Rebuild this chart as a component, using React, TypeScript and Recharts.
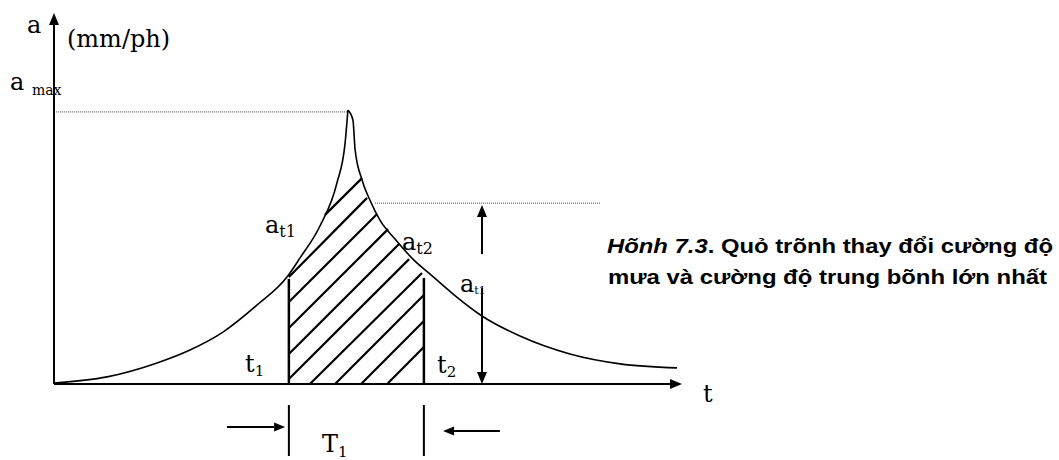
import React from 'react';
import { ComposedChart, Line, XAxis, YAxis, ReferenceLine } from 'recharts';

// rising limb of the rainfall intensity curve (t, a)
const leftT = [0, 1.69, 3.28, 4.33, 5.38, 6.46, 7.42, 7.83, 8.47, 9.01, 9.27, 9.36];
const leftA = [0.03, 0.23, 0.68, 1.1, 1.68, 2.55, 3.46, 4.07, 5.11, 6.5, 7.79, 8.86];

// falling limb, starting at the peak
const rightT = [9.36, 9.52, 9.59, 9.81, 10.06, 10.38, 10.86, 11.43, 11.97, 12.71, 13.63, 14.84, 16.43, 18.03, 19.84];
const rightA = [8.86, 8.54, 7.57, 6.6, 5.95, 5.3, 4.69, 4.04, 3.56, 2.91, 2.2, 1.55, 0.97, 0.65, 0.52];

// averaging window
const t1 = 7.48;
const t2 = 11.78;
const at1Top = 3.4;
const at2Top = 3.43;
const aMax = 8.8;
const aAvg = 5.85;
const tArrow = 13.63;

// hatch strokes inside the window: [start, end] as (t, a)
const hatchStart = [
  [8.63, 5.47], [7.48, 3.46], [7.48, 2.65], [7.48, 1.81], [7.48, 0.97],
  [7.48, 0.16], [8.15, 0], [8.95, 0], [9.78, 0], [10.61, 0],
];
const hatchEnd = [
  [9.81, 6.66], [9.97, 6.02], [10.29, 5.5], [10.64, 5.01], [10.99, 4.53],
  [11.31, 4.04], [11.72, 3.59], [11.78, 2.88], [11.78, 2.04], [11.78, 1.2],
];

const rows = [
  ...leftT.map((t, i) => ({ t, left: leftA[i], right: i === leftT.length - 1 ? rightA[0] : null })),
  ...rightT.slice(1).map((t, i) => ({ t, left: null, right: rightA[i + 1] })),
];

const serif = '"DejaVu Serif", serif';
const sans = '"Liberation Sans", Arial, sans-serif';

const arrow = (head: number, half: number) => (p: any) => {
  const { x1, y1, x2, y2 } = p;
  const dx = x2 - x1;
  const dy = y2 - y1;
  const len = Math.hypot(dx, dy) || 1;
  const ux = dx / len;
  const uy = dy / len;
  const bx = x2 - ux * head;
  const by = y2 - uy * head;
  const px = -uy * half;
  const py = ux * half;
  return (
    <g>
      <line x1={x1} y1={y1} x2={bx} y2={by} stroke="#000" strokeWidth={p.strokeWidth} />
      <polygon points={`${x2},${y2} ${bx + px},${by + py} ${bx - px},${by - py}`} fill="#000" />
    </g>
  );
};

function Sym({ x, y, base, sub, size = 24, subSize = 15, dy = 4 }: any) {
  return (
    <text x={x} y={y} fontFamily={serif} fontSize={size} fill="#000">
      {base}
      {sub && (
        <tspan fontSize={subSize} dy={dy}>
          {sub}
        </tspan>
      )}
    </text>
  );
}

export default function App() {
  return (
    <div style={{ position: 'absolute', left: 0, top: 0, width: 1059, height: 460, background: '#fff' }}>
      <ComposedChart width={1059} height={460} data={rows} margin={{ top: 13, right: 377, bottom: 76, left: 54 }}>
        <XAxis type="number" dataKey="t" domain={[0, 20]} hide />
        <YAxis type="number" domain={[0, 12]} hide />

        {/* axes with arrow heads */}
        <ReferenceLine segment={[{ x: 0, y: 0 }, { x: 0, y: 12 }]} ifOverflow="visible" strokeWidth={2} shape={arrow(12, 5)} />
        <ReferenceLine segment={[{ x: 0, y: 0 }, { x: 20, y: 0 }]} ifOverflow="visible" strokeWidth={2} shape={arrow(12, 5)} />

        {/* dotted guides */}
        <ReferenceLine segment={[{ x: 0.06, y: aMax }, { x: 9.33, y: aMax }]} ifOverflow="visible" stroke="#444" strokeWidth={1} strokeDasharray="1 1" />
        <ReferenceLine segment={[{ x: 10.22, y: aAvg }, { x: 17.39, y: aAvg }]} ifOverflow="visible" stroke="#444" strokeWidth={1} strokeDasharray="1 1" />

        {/* window bounds */}
        <ReferenceLine segment={[{ x: t1, y: 0 }, { x: t1, y: at1Top }]} ifOverflow="visible" stroke="#000" strokeWidth={2.5} />
        <ReferenceLine segment={[{ x: t2, y: 0 }, { x: t2, y: at2Top }]} ifOverflow="visible" stroke="#000" strokeWidth={2.5} />

        {hatchStart.map((s, i) => (
          <ReferenceLine
            key={i}
            segment={[{ x: s[0], y: s[1] }, { x: hatchEnd[i][0], y: hatchEnd[i][1] }]}
            ifOverflow="visible"
            stroke="#000"
            strokeWidth={2.2}
          />
        ))}

        {/* average intensity double arrow */}
        <ReferenceLine segment={[{ x: tArrow, y: 4.2 }, { x: tArrow, y: 5.79 }]} ifOverflow="visible" strokeWidth={2} shape={arrow(12, 5)} />
        <ReferenceLine segment={[{ x: tArrow, y: 3.1 }, { x: tArrow, y: 0 }]} ifOverflow="visible" strokeWidth={2} shape={arrow(12, 5)} />

        {/* duration marker under the axis */}
        <ReferenceLine segment={[{ x: t1, y: -0.68 }, { x: t1, y: -2.33 }]} ifOverflow="visible" stroke="#000" strokeWidth={2} />
        <ReferenceLine segment={[{ x: t2, y: -0.68 }, { x: t2, y: -2.33 }]} ifOverflow="visible" stroke="#000" strokeWidth={2} />
        <ReferenceLine segment={[{ x: 5.51, y: -1.39 }, { x: 7.36, y: -1.39 }]} ifOverflow="visible" strokeWidth={2} shape={arrow(11, 4.5)} />
        <ReferenceLine segment={[{ x: 14.2, y: -1.52 }, { x: 12.39, y: -1.52 }]} ifOverflow="visible" strokeWidth={2} shape={arrow(11, 4.5)} />

        <Line dataKey="left" type="monotone" stroke="#000" strokeWidth={1.6} dot={false} activeDot={false} isAnimationActive={false} />
        <Line dataKey="right" type="monotone" stroke="#000" strokeWidth={1.6} dot={false} activeDot={false} isAnimationActive={false} />

        <g>
          <Sym x={27} y={33} base="a" />
          <Sym x={67} y={47} base="(mm/ph)" />
          <Sym x={10} y={90} base="a " sub="max" subSize={14} dy={5} />
          <Sym x={265} y={233} base="a" sub="t1" subSize={16} />
          <Sym x={402} y={250} base="a" sub="t2" subSize={16} />
          <Sym x={460} y={292} base="a" sub="t1" subSize={11} dy={2} />
          <Sym x={245} y={372} base="t" sub="1" />
          <Sym x={437} y={373} base="t" sub="2" />
          <Sym x={703} y={402} base="t" />
          <Sym x={322} y={452} base="T" sub="1" dy={5} />
          <text x={607} y={253} fontFamily={sans} fontSize={20} fontWeight="bold" fill="#000" textLength={446} lengthAdjust="spacingAndGlyphs">
            <tspan fontStyle="italic">Hõnh 7.3</tspan>. Quỏ trõnh thay đổi cường độ
          </text>
          <text x={608} y={284} fontFamily={sans} fontSize={20} fontWeight="bold" fill="#000" textLength={439} lengthAdjust="spacingAndGlyphs">
            mưa và cường độ trung bõnh lớn nhất
          </text>
        </g>
      </ComposedChart>
    </div>
  );
}
